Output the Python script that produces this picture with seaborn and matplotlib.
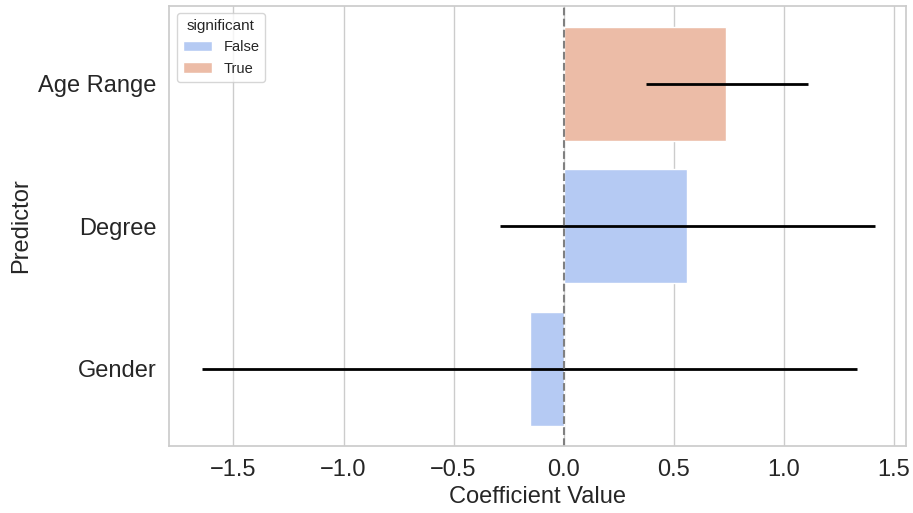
import pandas as pd
import seaborn as sns
import matplotlib.pyplot as plt

predictors = ['Age Range', 'Degree', 'Gender']
coef = [0.738, 0.560, -0.152]
ci_low = [0.373, -0.291, -1.644]
ci_high = [1.109, 1.413, 1.332]
significant = [True, False, False]

df = pd.DataFrame({'Predictor': predictors, 'Coefficient': coef,
                   'ci_low': ci_low, 'ci_high': ci_high,
                   'significant': significant})

sns.set_theme(style='whitegrid')
plt.rcParams['font.family'] = ['Arial', 'Liberation Sans', 'DejaVu Sans']

fig = plt.figure(figsize=(9.13, 5.13), dpi=100)
ax = fig.add_axes([169.4 / 913, (513 - 445.7) / 513, (905.5 - 169.4) / 913, (445.7 - 6) / 513])

sns.barplot(data=df, x='Coefficient', y='Predictor', hue='significant',
            hue_order=[False, True], palette='coolwarm', ax=ax)

# confidence intervals
for i, row in df.iterrows():
    ax.hlines(i, row['ci_low'], row['ci_high'], color='black', linewidth=2)

ax.axvline(0, color='grey', linestyle='--', linewidth=1.5)

ax.set_xlim(-1.791, 1.553)
ax.set_ylim(2.54, -0.545)
ax.tick_params(axis='both', labelsize=17)
ax.set_xlabel('Coefficient Value', fontsize=17)
ax.set_ylabel('Predictor', fontsize=17)
ax.legend(title='significant', loc='upper left', fontsize=10.5, title_fontsize=11)

fig.savefig('out.png', dpi=100)
